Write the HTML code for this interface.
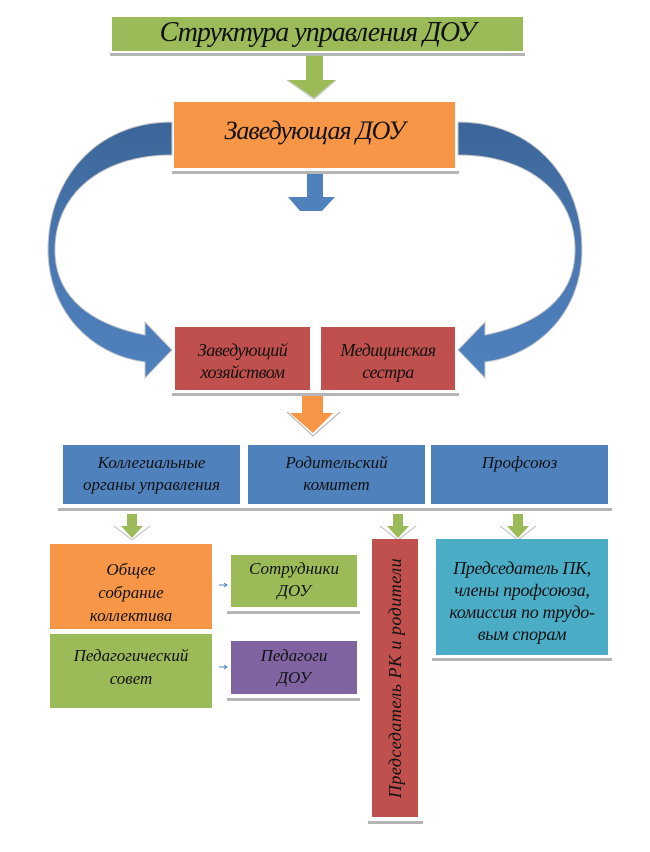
<!DOCTYPE html>
<html><head><meta charset="utf-8"><style>
body{margin:0;background:#fff;}
#c{position:relative;width:650px;height:852px;overflow:hidden;font-family:"Liberation Serif","DejaVu Serif",serif;font-style:italic;color:#111;}
.b{position:absolute;box-sizing:border-box;text-align:center;}
.sh{position:absolute;height:3px;background:#b5b5b5;}
</style></head><body><div id="c">
<svg width="650" height="852" style="position:absolute;left:0;top:0">
<defs>
<linearGradient id="g" x1="0" y1="0" x2="0" y2="1">
<stop offset="0" stop-color="#3b6597"/><stop offset="0.5" stop-color="#4a78b2"/><stop offset="1" stop-color="#4f81bd"/></linearGradient>
</defs>
<g fill="url(#g)" stroke="#c8c8c8" stroke-width="1">
<path d="M172,122 C95,122 48,180 48,250 C48,310 90,355 145,362 L145,378 L172,350 L145,322 L145,335 C95,325 55,300 55,250 C55,195 100,155 172,155 Z"/>
</g>
<g transform="translate(630,0) scale(-1,1)" fill="url(#g)" stroke="#c8c8c8" stroke-width="1">
<path d="M172,122 C95,122 48,180 48,250 C48,310 90,355 145,362 L145,378 L172,350 L145,322 L145,335 C95,325 55,300 55,250 C55,195 100,155 172,155 Z"/>
</g>
<path d="M306,55 L323,55 L323,80 L335,80 L314,98 L288,80 L306,80 Z" fill="#9bbb59"/>
<polyline points="287,80 314,99 336,80" fill="none" stroke="#bbb" stroke-width="1"/>
<path d="M307,173 L323,173 L323,197 L335,197 L322,211 L300,211 L288,197 L307,197 Z" fill="#4f81bd"/>
<path d="M302,393 L323,393 L323,413 L333,413 L313,433 L290,413 L302,413 Z" fill="#f79646"/>
<polyline points="287,412 313,436 340,412" fill="none" stroke="#aaa" stroke-width="1"/>
<g fill="#9bbb59">
<path d="M127,514 L137,514 L137,526 L143,526 L132,538 L121,526 L127,526 Z"/>
<path d="M393,514 L403,514 L403,526 L409,526 L398,538 L387,526 L393,526 Z"/>
<path d="M513,514 L523,514 L523,526 L529,526 L518,538 L507,526 L513,526 Z"/>
</g>
<g fill="none" stroke="#bbb" stroke-width="1">
<polyline points="114,526 132,540 150,526"/>
<polyline points="380,526 398,540 416,526"/>
<polyline points="500,526 518,540 536,526"/>
</g>
<g stroke="#4f81bd" stroke-width="1" fill="none">
<path d="M219,585 L227,585 M224,583 L227,585 L224,587"/>
<path d="M219,667 L227,667 M224,665 L227,667 L224,669"/>
</g>
</svg>
<div class="b" style="left:112px;top:17px;width:411px;height:34px;background:#9bbb59;font-size:28px;line-height:32px;letter-spacing:-1px">Структура управления ДОУ</div>
<div class="sh" style="left:110px;top:53px;width:415px"></div>
<div class="b" style="left:174px;top:102px;width:281px;height:66px;background:#f79646;font-size:26px;line-height:58px;letter-spacing:-1px">Заведующая ДОУ</div>
<div class="sh" style="left:172px;top:171px;width:287px"></div>
<div class="b" style="left:175px;top:327px;width:135px;height:63px;background:#c0504d;font-size:18px;line-height:22px;padding-top:12px;letter-spacing:-0.5px">Заведующий<br>хозяйством</div>
<div class="b" style="left:321px;top:327px;width:134px;height:63px;background:#c0504d;font-size:18px;line-height:22px;padding-top:12px;letter-spacing:-0.5px">Медицинская<br>сестра</div>
<div class="sh" style="left:172px;top:393px;width:287px"></div>
<div class="b" style="left:63px;top:445px;width:177px;height:59px;background:#4f81bd;font-size:17px;line-height:22px;padding-top:7px">Коллегиальные<br>органы управления</div>
<div class="b" style="left:248px;top:445px;width:177px;height:59px;background:#4f81bd;font-size:17px;line-height:22px;padding-top:7px">Родительский<br>комитет</div>
<div class="b" style="left:431px;top:445px;width:177px;height:59px;background:#4f81bd;font-size:17px;line-height:22px;padding-top:7px">Профсоюз</div>
<div class="sh" style="left:58px;top:508px;width:554px"></div>
<div class="b" style="left:50px;top:544px;width:162px;height:85px;background:#f79646;font-size:17px;line-height:23px;padding-top:14px">Общее<br>собрание<br>коллектива</div>
<div class="b" style="left:50px;top:634px;width:162px;height:74px;background:#9bbb59;font-size:17px;line-height:23px;padding-top:10px">Педагогический<br>совет</div>
<div class="b" style="left:231px;top:555px;width:126px;height:52px;background:#9bbb59;font-size:17px;line-height:22px;padding-top:3px">Сотрудники<br>ДОУ</div>
<div class="sh" style="left:227px;top:611px;width:133px"></div>
<div class="b" style="left:231px;top:641px;width:126px;height:53px;background:#8064a2;font-size:17px;line-height:22px;padding-top:4px">Педагоги<br>ДОУ</div>
<div class="sh" style="left:227px;top:698px;width:133px"></div>
<div class="b" style="left:372px;top:539px;width:46px;height:278px;background:#c0504d"></div>
<div style="position:absolute;left:395px;top:678px;width:270px;height:24px;margin-left:-135px;margin-top:-12px;transform:rotate(-90deg);text-align:center;font-size:18px;line-height:24px;letter-spacing:0.5px">Председатель РК и родители</div>
<div class="sh" style="left:368px;top:821px;width:55px"></div>
<div class="b" style="left:436px;top:539px;width:172px;height:116px;background:#4bacc6;font-size:18px;line-height:22px;padding-top:18px;letter-spacing:-0.3px">Председатель ПК,<br>члены профсоюза,<br>комиссия по трудо-<br>вым спорам</div>
<div class="sh" style="left:432px;top:658px;width:180px"></div>
</div></body></html>
